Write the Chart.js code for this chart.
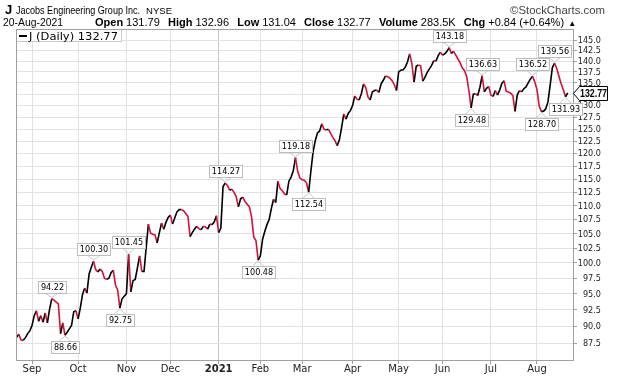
<!DOCTYPE html>
<html>
<head>
<meta charset="utf-8">
<script src="https://cdn.jsdelivr.net/npm/chart.js@4.4.1/dist/chart.umd.min.js"></script>
<style>
  html, body { margin: 0; padding: 0; background: #fff; }
  #wrap { width: 620px; height: 376px; }
</style>
</head>
<body>
<div id="wrap"><canvas id="chart" width="620" height="376"></canvas></div>
<script>
// J daily closes, 21-Aug-2020 .. 20-Aug-2021 (one per trading day)
const closes = [
  88.35, 88.8, 87.95, 87.9, 88.3, 88.9, 89.3, 90.1, 91.6, 92.35,
  90.75, 91.6, 90.6, 92.0, 90.5, 92.6, 94.22, 94.0, 93.7, 93.4,
  88.9, 90.5, 88.66, 89.1, 89.6, 90.1, 92.2, 92.35, 91.1, 92.8,
  94.9, 95.9, 95.1, 98.2, 99.3, 100.30, 98.9, 98.5, 99.0, 98.6,
  97.5, 97.3, 97.5, 98.4, 98.8, 96.4, 95.6, 92.75, 94.2, 94.6,
  95.0, 101.45, 95.3, 97.1, 97.3, 99.2, 101.2, 98.6, 98.6, 102.6,
  106.7, 105.1, 104.9, 104.8, 103.4, 105.2, 106.9, 105.8, 107.0, 107.9,
  108.3, 106.7, 107.8, 108.9, 109.3, 109.3, 109.1, 108.6, 108.1, 104.5,
  105.2, 105.8, 106.3, 105.9, 105.7, 106.3, 106.2, 105.8, 106.7, 106.6,
  107.1, 108.2, 105.2, 106.0, 113.6, 114.27, 113.8, 112.9, 113.1, 112.5,
  111.7, 109.8, 111.3, 111.6, 110.8, 110.3, 109.8, 108.0, 104.4, 103.8,
  100.48, 101.2, 104.0, 105.4, 106.6, 107.5, 109.5, 111.2, 110.6, 114.6,
  113.2, 112.8, 112.2, 112.0, 114.6, 115.4, 116.6, 119.18, 116.5, 115.2,
  114.9, 114.8, 114.3, 112.54, 116.5, 120.3, 122.6, 124.2, 124.6, 126.1,
  125.0, 124.8, 125.0, 124.1, 123.3, 122.6, 121.6, 122.8, 125.3, 128.2,
  127.1, 128.3, 128.9, 130.0, 132.1, 131.4, 131.2, 132.6, 134.8, 134.0,
  131.9, 131.2, 133.0, 133.3, 133.4, 132.9, 134.8, 135.6, 136.6, 136.4,
  136.1, 135.5, 134.6, 133.3, 137.5, 137.9, 138.0, 138.6, 139.8, 141.7,
  139.5, 135.2, 138.8, 139.1, 138.9, 135.4, 136.3, 137.4, 138.2, 139.0,
  140.1, 140.0, 141.3, 142.1, 141.4, 141.7, 142.3, 143.18, 141.8, 142.3,
  141.4, 140.5, 139.6, 138.4, 137.8, 136.4, 133.2, 129.48, 132.5, 132.6,
  132.2, 134.0, 136.63, 133.0, 133.8, 134.2, 132.3, 132.0, 133.3, 132.3,
  133.4, 134.9, 135.5, 133.1, 133.0, 132.7, 132.2, 128.75, 132.3, 133.3,
  133.0, 133.7, 134.1, 135.0, 135.9, 136.52, 135.2, 133.5, 129.9, 128.70,
  128.8, 129.3, 130.8, 134.5, 138.5, 139.56, 138.3, 136.5, 134.8, 133.5,
  131.93, 132.77
];

// first trading day of each month (index into closes) and its label
const monthIdx = [7, 28, 50, 70, 92, 111, 130, 153, 174, 194, 216, 237];
const monthLabels = ['Sep', 'Oct', 'Nov', 'Dec', '2021', 'Feb', 'Mar', 'Apr', 'May', 'Jun', 'Jul', 'Aug'];

const yTicks = [87.5, 90, 92.5, 95, 97.5, 100, 102.5, 105, 107.5, 110, 112.5, 115, 117.5,
  120, 122.5, 125, 127.5, 130, 132.5, 135, 137.5, 140, 142.5, 145];

// annotated swing highs / lows
const peakIdx = [16, 35, 51, 95, 127, 197, 212, 235, 245];
const troughIdx = [22, 47, 110, 133, 207, 239, 250];

const symbol = 'J';
const company = 'Jacobs Engineering Group Inc.';
const exchange = 'NYSE';
const quoteDate = '20-Aug-2021';
const quoteFields = ['Open', 'High', 'Low', 'Close', 'Volume', 'Chg'];
const quoteValues = ['131.79', '132.96', '131.04', '132.77', '283.5K', '+0.84 (+0.64%)'];

const UP = '#000000';
const DOWN = '#d3123a';
const SANS = '"Liberation Sans", Arial, sans-serif';
const VERD = '"DejaVu Sans", Verdana, sans-serif';

function drawText(ctx, s, x, y, font, opts) {
  opts = opts || {};
  ctx.save();
  ctx.font = font;
  ctx.fillStyle = opts.color || '#000';
  ctx.textBaseline = opts.baseline || 'alphabetic';
  const natural = ctx.measureText(s).width;
  const sx = opts.fit ? opts.fit / natural : (opts.sx || 1);
  const w = natural * sx;
  let x0 = x;
  if (opts.align === 'right') x0 = x - w;
  else if (opts.align === 'center') x0 = x - w / 2;
  ctx.translate(x0, y);
  ctx.scale(sx, 1);
  ctx.fillText(s, 0, 0);
  ctx.restore();
  return w;
}

function flag(ctx, px, py, text, above) {
  const font = '9px ' + VERD;
  ctx.save();
  ctx.font = font;
  const tw = ctx.measureText(text).width * 0.9;
  const w = Math.round(tw + 5), h = 12, gap = 6;
  const bx = Math.round(px - w / 2) + 0.5;
  const by = above ? Math.round(py - gap - h) + 0.5 : Math.round(py + gap) + 0.5;
  const edge = above ? by + h : by;
  ctx.strokeStyle = '#c8c8c8';
  ctx.lineWidth = 1;
  ctx.beginPath();
  ctx.moveTo(px - 6, edge);
  ctx.lineTo(px, py + (above ? -1 : 1));
  ctx.lineTo(px + 6, edge);
  ctx.stroke();
  ctx.fillStyle = '#fff';
  ctx.fillRect(bx, by, w, h);
  ctx.strokeStyle = '#bdbdbd';
  ctx.strokeRect(bx, by, w, h);
  ctx.restore();
  drawText(ctx, text, bx + w / 2, by + h / 2 + 0.5, font, { align: 'center', baseline: 'middle', sx: 0.9 });
}

const decor = {
  id: 'decor',
  beforeDraw(chart) {
    const ctx = chart.ctx;
    ctx.save();
    ctx.fillStyle = '#fff';
    ctx.fillRect(0, 0, chart.width, chart.height);
    ctx.restore();
  },
  afterDraw(chart) {
    const ctx = chart.ctx;
    const a = chart.chartArea;
    const xs = chart.scales.x, ys = chart.scales.y;

    // plot frame
    ctx.save();
    ctx.strokeStyle = '#a0a0a0';
    ctx.lineWidth = 1;
    ctx.strokeRect(Math.round(a.left) + 0.5, Math.round(a.top) + 0.5,
      Math.round(a.right - a.left), Math.round(a.bottom - a.top));
    ctx.restore();

    // y tick labels
    ys.ticks.forEach(t => {
      drawText(ctx, t.value.toFixed(1), 601, ys.getPixelForValue(t.value) + 0.5,
        '9px ' + VERD, { align: 'right', baseline: 'middle', sx: 0.9, color: '#222' });
    });
    // x tick labels
    xs.ticks.forEach((t, k) => {
      const lab = monthLabels[k];
      const bold = lab === '2021' ? 'bold ' : '';
      drawText(ctx, lab, xs.getPixelForValue(t.value), 372, bold + '10px ' + VERD,
        { align: 'center', color: '#222' });
    });

    // header
    drawText(ctx, symbol, 5, 14, 'bold 13px ' + SANS);
    drawText(ctx, company, 16, 14, '11px ' + SANS, { fit: 124 });
    drawText(ctx, exchange, 146, 14, '9px ' + SANS, { fit: 26 });
    drawText(ctx, '\u00a9StockCharts.com', 605, 14, '10.5px ' + SANS, { align: 'right', color: '#444', fit: 95 });
    drawText(ctx, quoteDate, 3, 26, '11px ' + SANS, { fit: 60 });
    let qx = 95;
    quoteFields.forEach((f, k) => {
      qx += drawText(ctx, f, qx, 26, 'bold 11px ' + SANS);
      qx += 3;
      qx += drawText(ctx, quoteValues[k], qx, 26, '11px ' + SANS);
      qx += 8.2;
    });
    drawText(ctx, '\u25b2', qx - 4, 26, '8px ' + SANS);

    // legend box
    ctx.save();
    ctx.fillStyle = '#fff';
    ctx.fillRect(a.left + 1, a.top + 1, 104, 11);
    ctx.strokeStyle = '#c8c8c8';
    ctx.beginPath();
    ctx.moveTo(a.left + 105.5, a.top + 1);
    ctx.lineTo(a.left + 105.5, a.top + 12.5);
    ctx.lineTo(a.left + 1, a.top + 12.5);
    ctx.stroke();
    ctx.strokeStyle = '#000';
    ctx.lineWidth = 2;
    ctx.beginPath();
    ctx.moveTo(a.left + 3, a.top + 7);
    ctx.lineTo(a.left + 11, a.top + 7);
    ctx.stroke();
    ctx.restore();
    const last = closes[closes.length - 1];
    drawText(ctx, symbol + ' (Daily) ' + last.toFixed(2), a.left + 13, a.top + 10.5, '11px ' + VERD, { fit: 89 });

    // swing annotations
    peakIdx.forEach(i => flag(ctx, xs.getPixelForValue(i), ys.getPixelForValue(closes[i]), closes[i].toFixed(2), true));
    troughIdx.forEach(i => flag(ctx, xs.getPixelForValue(i), ys.getPixelForValue(closes[i]), closes[i].toFixed(2), false));

    // last price tag on the axis
    const py = Math.round(ys.getPixelForValue(last)) + 0.5;
    const tx = Math.round(a.right) + 0.5;
    ctx.save();
    ctx.beginPath();
    ctx.moveTo(tx, py);
    ctx.lineTo(tx + 6, py - 7);
    ctx.lineTo(tx + 34, py - 7);
    ctx.lineTo(tx + 34, py + 7);
    ctx.lineTo(tx + 6, py + 7);
    ctx.closePath();
    ctx.fillStyle = '#fff';
    ctx.fill();
    ctx.strokeStyle = '#000';
    ctx.lineWidth = 1;
    ctx.stroke();
    ctx.restore();
    drawText(ctx, last.toFixed(2), tx + 20, py + 0.5, 'bold 11px ' + SANS, { align: 'center', baseline: 'middle', fit: 27 });
  }
};

new Chart(document.getElementById('chart'), {
  type: 'line',
  data: {
    datasets: [{
      data: closes.map((v, i) => ({ x: i, y: v })),
      borderColor: UP,
      borderWidth: 1.6,
      pointRadius: 0,
      tension: 0,
      segment: {
        borderColor: c => c.p1.parsed.y < c.p0.parsed.y ? DOWN : UP
      }
    }]
  },
  options: {
    responsive: false,
    animation: false,
    devicePixelRatio: 1,
    layout: { padding: { left: 16, top: 29, right: 0, bottom: 0 } },
    plugins: { legend: { display: false }, tooltip: { enabled: false } },
    scales: {
      x: {
        type: 'linear',
        min: -0.3,
        max: 253.4,
        afterBuildTicks: s => { s.ticks = monthIdx.map(v => ({ value: v })); },
        afterFit: s => { s.height = 16; },
        ticks: { display: false },
        grid: {
          color: c => (c.tick && c.tick.value === 92) ? '#c6c6c6' : '#e2e2e2',
          tickColor: '#a0a0a0',
          tickLength: 4
        },
        border: { color: '#a0a0a0' }
      },
      y: {
        type: 'logarithmic',
        position: 'right',
        min: 85.07,
        max: 147.7,
        afterBuildTicks: s => { s.ticks = yTicks.map(v => ({ value: v })); },
        afterFit: s => { s.width = 47; },
        ticks: { display: false },
        grid: { color: '#e2e2e2', tickColor: '#a0a0a0', tickLength: 4 },
        border: { color: '#a0a0a0' }
      }
    }
  },
  plugins: [decor]
});
</script>
</body>
</html>
